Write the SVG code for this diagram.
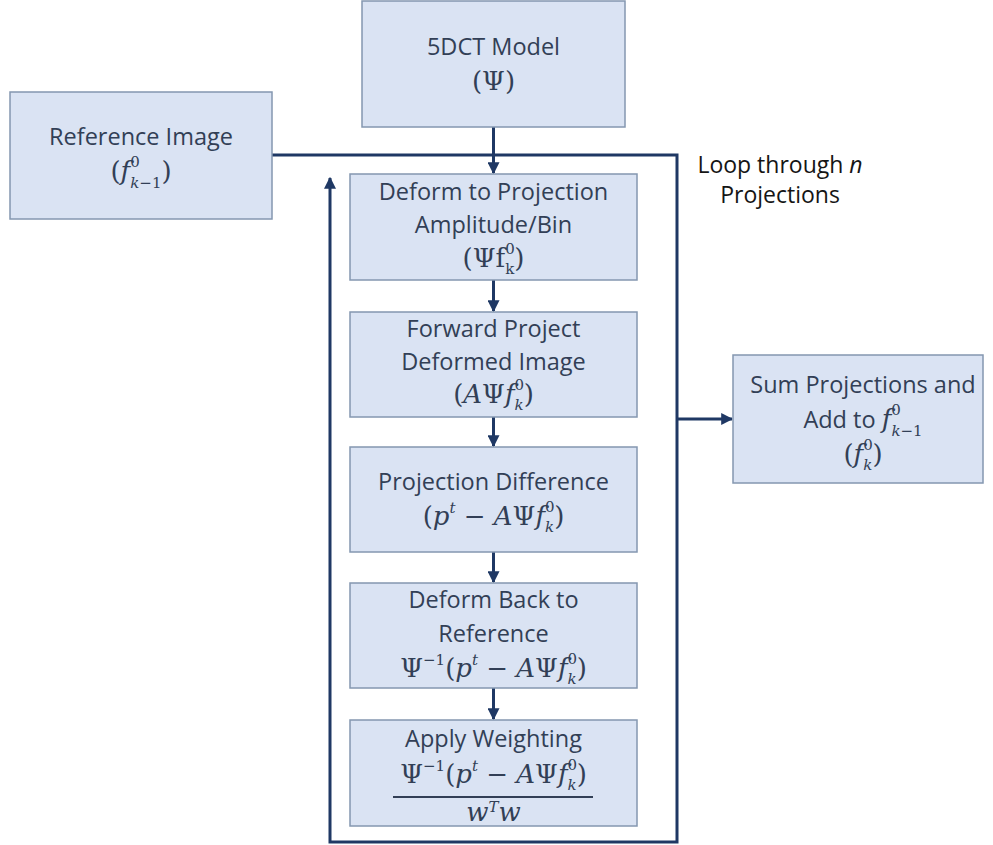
<svg xmlns="http://www.w3.org/2000/svg" width="993" height="845" viewBox="0 0 993 845">
<style>
.box{fill:#dae3f3;stroke:#8497b0;stroke-width:1.5}
.t{font-family:"Open Sans","Liberation Sans",sans-serif;font-size:23.5px;fill:#323f56;text-anchor:middle}
.lbl{font-family:"Open Sans","Liberation Sans",sans-serif;font-size:23px;fill:#151515;text-anchor:middle}
.m{font-family:"DejaVu Serif","Liberation Serif",serif;font-size:26px;fill:#323f56;text-anchor:middle}
.mf{font-family:"DejaVu Serif","Liberation Serif",serif;font-size:26px}
.i{font-style:italic}
.s{font-size:15px}
.c{fill:none;stroke:#1f3864;stroke-width:3;stroke-linejoin:miter}
</style>
<defs>
<marker id="ah" viewBox="0 0 10 10" refX="9" refY="5" markerWidth="12" markerHeight="12" markerUnits="userSpaceOnUse" orient="auto">
<path d="M0,0 L10,5 L0,10 z" fill="#1f3864"/>
</marker>
</defs>
<rect width="993" height="845" fill="#ffffff"/>

<g id="connectors">
<path class="c" d="M272,155 H677 V842 H330 V178" marker-end="url(#ah)"/>
<path class="c" d="M493.5,127 V173" marker-end="url(#ah)"/>
<path class="c" d="M493.5,280 V311" marker-end="url(#ah)"/>
<path class="c" d="M493.5,417 V446" marker-end="url(#ah)"/>
<path class="c" d="M493.5,552 V582" marker-end="url(#ah)"/>
<path class="c" d="M493.5,688 V719" marker-end="url(#ah)"/>
<path class="c" d="M677,419 H732" marker-end="url(#ah)"/>
</g>

<g id="model">
<rect class="box" x="362" y="1" width="263" height="126"/>
<text class="t" x="493.5" y="55">5DCT Model</text>
<text class="m" x="493.5" y="90">(Ψ)</text>
</g>

<g id="reference">
<rect class="box" x="10" y="92" width="262" height="127"/>
<text class="t" x="141" y="145">Reference Image</text>
<text class="m" x="141" y="180">(<tspan class="i">f</tspan><tspan class="s" dy="-13">0</tspan><tspan class="s i" dx="-9.5" dy="21">k</tspan><tspan class="s">−1</tspan><tspan dy="-8">)</tspan></text>
</g>

<g id="loop-label">
<text class="lbl" x="780" y="173">Loop through <tspan class="i">n</tspan></text>
<text class="lbl" x="780" y="203">Projections</text>
</g>

<g id="deform">
<rect class="box" x="350" y="174" width="287" height="106"/>
<text class="t" x="493.5" y="200">Deform to Projection</text>
<text class="t" x="493.5" y="233">Amplitude/Bin</text>
<text class="m" x="493.5" y="267">(Ψf<tspan class="s" dy="-13">0</tspan><tspan class="s" dx="-9.5" dy="20">k</tspan><tspan dy="-7">)</tspan></text>
</g>

<g id="forward">
<rect class="box" x="350" y="312" width="287" height="105"/>
<text class="t" x="493.5" y="337">Forward Project</text>
<text class="t" x="493.5" y="370">Deformed Image</text>
<text class="m" x="493.5" y="403">(<tspan class="i">A</tspan>Ψ<tspan class="i">f</tspan><tspan class="s" dy="-13">0</tspan><tspan class="s i" dx="-9.5" dy="20">k</tspan><tspan dy="-7">)</tspan></text>
</g>

<g id="difference">
<rect class="box" x="350" y="447" width="287" height="105"/>
<text class="t" x="493.5" y="490">Projection Difference</text>
<text class="m" x="493.5" y="525">(<tspan class="i">p</tspan><tspan class="s i" dy="-12">t</tspan><tspan dy="12"> − </tspan><tspan class="i">A</tspan>Ψ<tspan class="i">f</tspan><tspan class="s" dy="-13">0</tspan><tspan class="s i" dx="-9.5" dy="20">k</tspan><tspan dy="-7">)</tspan></text>
</g>

<g id="deform-back">
<rect class="box" x="350" y="583" width="287" height="105"/>
<text class="t" x="493.5" y="608">Deform Back to</text>
<text class="t" x="493.5" y="642">Reference</text>
<text class="m" x="493.5" y="677">Ψ<tspan class="s" dy="-12">−1</tspan><tspan dy="12">(</tspan><tspan class="i">p</tspan><tspan class="s i" dy="-12">t</tspan><tspan dy="12"> − </tspan><tspan class="i">A</tspan>Ψ<tspan class="i">f</tspan><tspan class="s" dy="-13">0</tspan><tspan class="s i" dx="-9.5" dy="20">k</tspan><tspan dy="-7">)</tspan></text>
</g>

<g id="weighting">
<rect class="box" x="350" y="720" width="287" height="106"/>
<text class="t" x="493.5" y="747">Apply Weighting</text>
<text class="m" x="493.5" y="783">Ψ<tspan class="s" dy="-12">−1</tspan><tspan dy="12">(</tspan><tspan class="i">p</tspan><tspan class="s i" dy="-12">t</tspan><tspan dy="12"> − </tspan><tspan class="i">A</tspan>Ψ<tspan class="i">f</tspan><tspan class="s" dy="-13">0</tspan><tspan class="s i" dx="-9.5" dy="20">k</tspan><tspan dy="-7">)</tspan></text>
<line x1="393" y1="797" x2="593" y2="797" stroke="#323f56" stroke-width="2"/>
<text class="m" x="493.5" y="821"><tspan class="i">w</tspan><tspan class="s i" dy="-9">T</tspan><tspan class="i" dy="9">w</tspan></text>
</g>

<g id="sum">
<rect class="box" x="733" y="355" width="250" height="128"/>
<text class="t" x="863" y="393">Sum Projections and</text>
<text class="t" x="863" y="428">Add to <tspan class="mf i">f</tspan><tspan class="mf s" dy="-13">0</tspan><tspan class="mf s i" dx="-9.5" dy="21">k</tspan><tspan class="mf s">−1</tspan></text>
<text class="m" x="863" y="463">(<tspan class="i">f</tspan><tspan class="s" dy="-13">0</tspan><tspan class="s i" dx="-9.5" dy="20">k</tspan><tspan dy="-7">)</tspan></text>
</g>
</svg>
